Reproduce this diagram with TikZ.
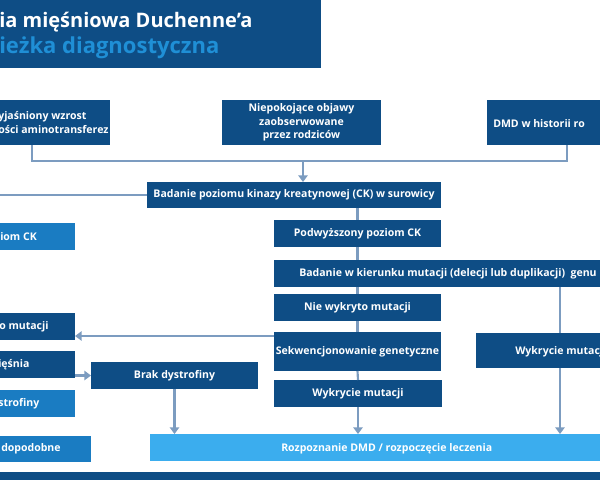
\documentclass[tikz,border=0pt]{standalone}
\usepackage{fontspec}
\setmainfont{Open Sans}
\usetikzlibrary{arrows.meta}
\definecolor{dk}{HTML}{0E4D85}
\definecolor{md}{HTML}{1A7CC2}
\definecolor{lt}{HTML}{3BADEE}
\definecolor{ln}{HTML}{7C9CC0}
\definecolor{tl}{HTML}{1F8FD6}
\begin{document}
\begin{tikzpicture}[x=0.75pt,y=-0.75pt,
  bx/.style={inner sep=0pt, outer sep=0pt, font=\bfseries\fontsize{7.9}{10}\selectfont, text=white, align=center},
  dark/.style={bx, fill=dk},
  mid/.style={bx, fill=md},
  light/.style={bx, fill=lt},
  tx/.style={inner sep=0pt, font=\bfseries\fontsize{7.9}{10}\selectfont, text=white, anchor=west, align=left},
  con/.style={draw=ln, line width=1.6pt},
  arr/.style={con, -{Triangle[width=7pt,length=5pt]}}]
\useasboundingbox (0,0) rectangle (600,480);
\fill[white] (0,0) rectangle (600,480);
\clip (0,0) rectangle (600,480);
% title
\node[dark, minimum width=321*0.75pt, minimum height=68*0.75pt, anchor=north west] (title) at (0,0) {};
\node[tx, font=\bfseries\fontsize{15}{18}\selectfont] (t1) at (-1,22) {ia mięśniowa Duchenne’a};
\node[tx, font=\bfseries\fontsize{16.5}{19}\selectfont, text=tl] (t2) at (-1,48) {ieżka diagnostyczna};
% top row
\node[dark, minimum width=110*0.75pt, minimum height=45*0.75pt] (a) at (55,122.5) {};
\node[tx] (at) at (-2,122.5) {yjaśniony wzrost\\ości aminotransferez};
\node[dark, minimum width=159*0.75pt, minimum height=45*0.75pt] (b) at (301.5,122.5) {Niepokojące objawy\\zaobserwowane\\ przez rodziców};
\node[dark, minimum width=130*0.75pt, minimum height=45*0.75pt] (c) at (552,122.5) {};
\node[tx] (ct) at (493,124) {DMD w historii ro};
% CK
\node[dark, minimum width=294*0.75pt, minimum height=26*0.75pt] (ck) at (294,195) {Badanie poziomu kinazy kreatynowej (CK) w surowicy};
% left column
\node[mid, minimum width=75*0.75pt, minimum height=27*0.75pt] (l1) at (37.5,236.5) {};
\node[tx] (l1t) at (0,236.5) {iom CK};
\node[dark, minimum width=75*0.75pt, minimum height=27*0.75pt] (l2) at (37.5,326.5) {};
\node[tx] (l2t) at (-1,326.5) {o mutacji};
\node[dark, minimum width=75*0.75pt, minimum height=27*0.75pt] (l3) at (37.5,364.5) {};
\node[tx] (l3t) at (-2,365) {ięśnia};
\node[mid, minimum width=75*0.75pt, minimum height=27*0.75pt] (l4) at (37.5,403.5) {};
\node[tx] (l4t) at (-2,403.5) {strofiny};
\node[mid, minimum width=91*0.75pt, minimum height=26*0.75pt] (l5) at (45.5,449) {};
\node[tx] (l5t) at (1,449) {dopodobne};
\node[dark, minimum width=167*0.75pt, minimum height=27*0.75pt] (brak) at (174.5,375.5) {Brak dystrofiny};
% center column
\node[dark, minimum width=167*0.75pt, minimum height=27*0.75pt] (pod) at (357.5,233.5) {Podwyższony poziom CK};
\node[dark, minimum width=340*0.75pt, minimum height=27*0.75pt] (bad) at (444,273.5) {};
\node[tx] (badt) at (299,273.5) {Badanie w kierunku mutacji (delecji lub duplikacji)~ genu D};
\node[dark, minimum width=167*0.75pt, minimum height=27*0.75pt] (nie) at (357.5,307.5) {Nie wykryto mutacji};
\node[dark, minimum width=167*0.75pt, minimum height=39*0.75pt] (sek) at (357.5,351.5) {Sekwencjonowanie genetyczne};
\node[dark, minimum width=168*0.75pt, minimum height=27*0.75pt] (wyk) at (358,393.5) {Wykrycie mutacji};
\node[dark, minimum width=140*0.75pt, minimum height=35*0.75pt] (wr) at (546,350.5) {};
\node[tx] (wrt) at (515,351.5) {Wykrycie mutacj};
\node[light, minimum width=460*0.75pt, minimum height=27*0.75pt] (roz) at (380,447.5) {};
\node[tx] (rozt) at (281,449) {Rozpoznanie DMD / rozpoczęcie leczenia};
\fill[dk] (0,472) rectangle (600,480);
% connectors
\coordinate (hl) at (32,161);
\coordinate (hr) at (567,161);
\coordinate (hm) at (303,161);
\draw[con] (a.south -| hl) -- (hl) -- (hr) -- (c.south -| hr);
\draw[arr] (hm) -- (hm |- ck.north);
\coordinate (ckl) at (0,195);
\draw[con] (ck.west) -- (ckl);
\draw[con] (ck.south -| pod.north) -- (pod.north);
\draw[con] (pod.south) -- (pod.south |- bad.north);
\draw[con] (nie.north |- bad.south) -- (nie.north);
\draw[con] (nie.south) -- (sek.north);
\draw[con] (sek.south) -- (wyk.north);
\draw[arr] (wyk.south) -- (wyk.south |- roz.north);
\coordinate (sl) at (441,336);
\draw[arr] (sek.west |- sl) -- (l2.east |- sl);
\draw[arr] (l3.east |- brak.west) -- (brak.west);
\draw[arr] (brak.south) -- (brak.south |- roz.north);
\coordinate (rx) at (560,300);
\draw[con] (rx |- bad.south) -- (rx |- wr.north);
\draw[arr] (rx |- wr.south) -- (rx |- roz.north);
\end{tikzpicture}
\end{document}
